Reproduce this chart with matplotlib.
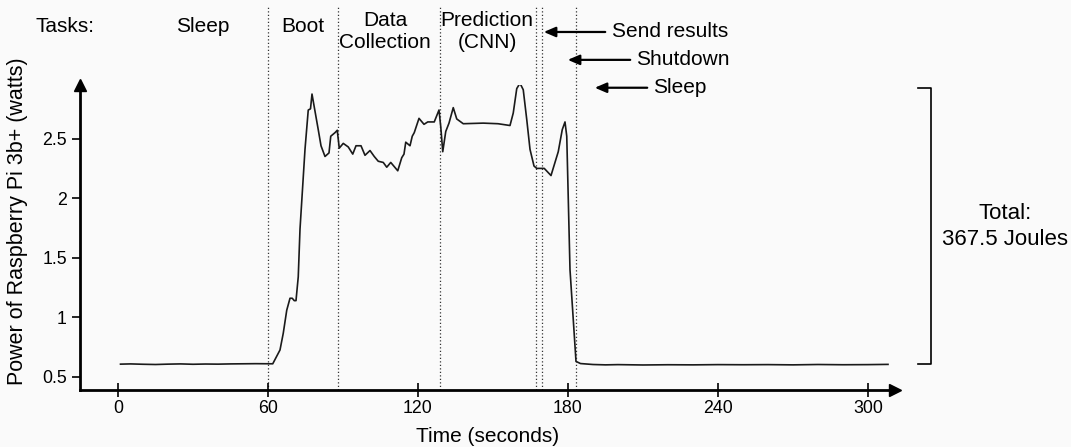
import matplotlib
matplotlib.use("Agg")
import matplotlib.pyplot as plt

plt.rcParams["font.family"] = ["Liberation Sans", "DejaVu Sans"]

# power trace of the Raspberry Pi (seconds, watts)
time_s = [1, 5, 10, 15, 20, 25, 30, 35, 40, 45, 50, 55, 61.9,
          64.8, 66.1, 67.5, 68.8, 69.7, 70.5, 71.2, 72.1, 72.8, 74.8, 76.1, 77.0, 77.6,
          78.8, 80.1, 81.2, 82.8, 84.4, 85.1, 86.8, 87.7, 88.5, 90.1, 92.1, 93.9,
          95.2, 97.2, 98.8, 100.8, 102.5, 104.1, 106.1, 107.5, 109.1, 111.9, 113.5,
          114.4, 115.1, 116.8, 117.7, 118.5, 120.4, 122.4, 123.9, 126.5, 128.4,
          129.1, 129.9, 131.1, 132.4, 134.1, 135.5, 138.1, 146.1, 152.0, 156.8,
          158.1, 159.5, 160.8, 162.1, 163.5, 164.8, 166.4, 167.5, 170.5, 173.2,
          176.1, 177.7, 178.8, 179.5, 180.8, 183.2, 185, 190, 195, 200, 210, 220,
          230, 240, 250, 260, 270, 280, 290, 300, 308]
power_w = [0.607, 0.609, 0.606, 0.604, 0.607, 0.609, 0.606, 0.608, 0.607, 0.609,
           0.610, 0.611, 0.610,
           0.726, 0.866, 1.06, 1.16, 1.16, 1.14, 1.14, 1.34, 1.74, 2.41, 2.74, 2.75, 2.874,
           2.73, 2.575, 2.44, 2.35, 2.38, 2.52, 2.55, 2.57, 2.42, 2.46, 2.43, 2.37,
           2.44, 2.44, 2.36, 2.40, 2.35, 2.31, 2.30, 2.26, 2.30, 2.23, 2.34,
           2.37, 2.47, 2.44, 2.52, 2.55, 2.67, 2.62, 2.64, 2.64, 2.74,
           2.60, 2.39, 2.56, 2.63, 2.76, 2.665, 2.625, 2.63, 2.625, 2.61,
           2.715, 2.92, 2.965, 2.91, 2.66, 2.41, 2.27, 2.25, 2.25, 2.19,
           2.39, 2.575, 2.64, 2.52, 1.40, 0.63, 0.612, 0.604, 0.601, 0.603, 0.600, 0.602,
           0.601, 0.603, 0.602, 0.603, 0.601, 0.604, 0.602, 0.603, 0.605]

# task boundaries (seconds)
boundaries = [60, 88, 128.8, 167.1, 169.7, 183.3]

tasks = ["Sleep", "Boot", "Data\nCollection", "Prediction\n(CNN)"]
task_x = [34, 74, 106.8, 147.6]

short_tasks = ["Send results", "Shutdown", "Sleep"]
short_head = [169.2, 178.8, 189.6]
short_tail = [196, 206, 212.8]
short_y = [3.395, 3.161, 2.927]

total_label = "Total:\n367.5 Joules"

bg = "#fafafa"
fig = plt.figure(figsize=(10.71, 4.47), dpi=100, facecolor=bg)
ax = fig.add_axes([80 / 1071, 1 - 390 / 447, 815 / 1071, 305 / 447])
ax.set_facecolor(bg)
ax.set_xlim(-15.2, 310.8)
ax.set_ylim(0.39, 2.95)

for b in boundaries:
    ax.plot([b, b], [0.39, 3.62], color="#333333", lw=0.9, ls=(0, (1.0, 1.8)),
            clip_on=False, zorder=1)

ax.plot(time_s, power_w, color="#1a1a1a", lw=1.2, zorder=3)

for s in ["top", "right"]:
    ax.spines[s].set_visible(False)
for s in ["left", "bottom"]:
    ax.spines[s].set_linewidth(2)
ax.plot(1, 0, ">", color="black", ms=9, transform=ax.transAxes, clip_on=False)
ax.plot(0, 1, "^", color="black", ms=9, transform=ax.transAxes, clip_on=False)

ax.set_xticks([0, 60, 120, 180, 240, 300])
ax.set_yticks([0.5, 1, 1.5, 2, 2.5])
ax.set_yticklabels(["0.5", "1", "1.5", "2", "2.5"])
ax.tick_params(axis="x", direction="inout", length=10, width=1.2, labelsize=12.8, pad=2)
ax.tick_params(axis="y", direction="out", length=6, width=1.2, labelsize=12.8)

ax.set_xlabel("Time (seconds)", fontsize=15, ha="center", va="center")
ax.set_ylabel("Power of Raspberry Pi 3b+ (watts)", fontsize=15.5, ha="center", va="center")
ax.yaxis.set_label_coords(-0.0773, 0.554)
ax.xaxis.set_label_coords(0.5, -0.154)

fs = 15
ax.text(-21.2, 3.437, "Tasks:", fontsize=fs, ha="center", va="center")
for name, x in zip(tasks, task_x):
    ax.text(x, 3.437 if "\n" not in name else 3.40, name, fontsize=fs,
            ha="center", va="center", linespacing=1.15)

for name, h, t, y in zip(short_tasks, short_head, short_tail, short_y):
    ax.annotate("", xy=(h, y), xytext=(t, y),
                arrowprops=dict(arrowstyle="-|>,head_length=0.7,head_width=0.3",
                                color="black", lw=1.6),
                annotation_clip=False)
    ax.text(t + 1.4, y, name, fontsize=fs, ha="left", va="center")

# bracket for the total energy
ax.plot([320, 325.2, 325.2, 320], [2.927, 2.927, 0.609, 0.609], color="black",
        lw=1.2, clip_on=False)
ax.text(354.8, 1.764, total_label, fontsize=16, ha="center", va="center",
        linespacing=1.3)

fig.savefig("out.png", dpi=100, facecolor=bg)
